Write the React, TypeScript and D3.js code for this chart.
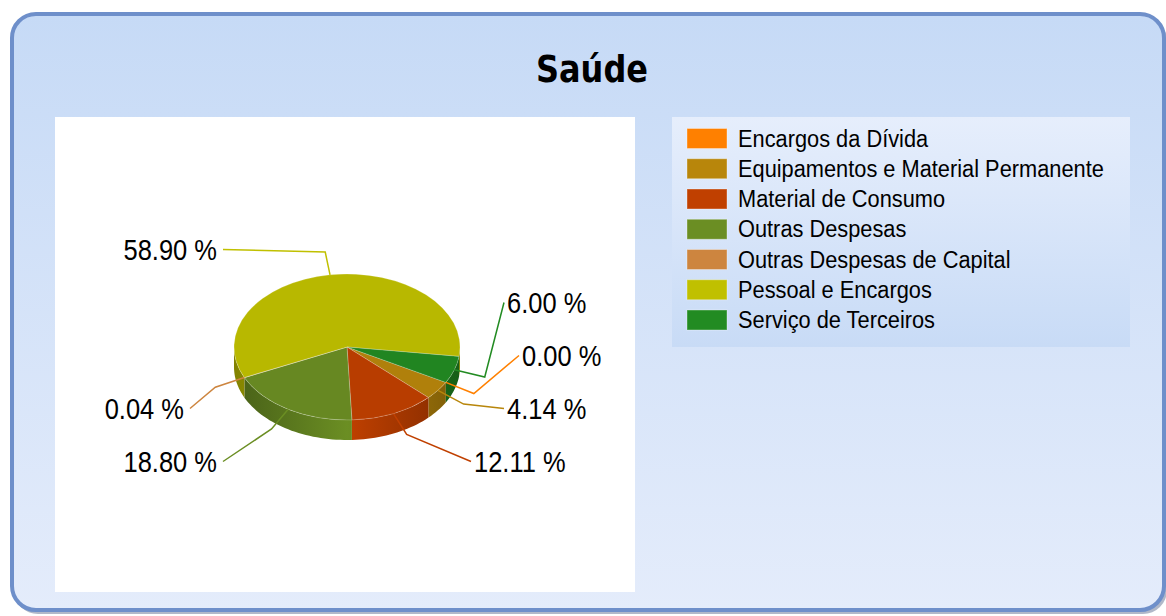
import React from 'react';
import * as d3 from 'd3';

const categories = [
  'Encargos da Dívida',
  'Equipamentos e Material Permanente',
  'Material de Consumo',
  'Outras Despesas',
  'Outras Despesas de Capital',
  'Pessoal e Encargos',
  'Serviço de Terceiros',
];
const values = [0.0, 4.14, 12.11, 18.8, 0.04, 58.9, 6.0];
const colors = ['#FF8000', '#B8860B', '#C04000', '#6B8E23', '#CD853F', '#C0C000', '#228B22'];
const title = 'Saúde';

const W = 1166;
const H = 616;
const cx = 347;
const cy = 347;
const rx = 113;
const ry = 73;
const depth = 20;
const startDeg = 119; // d3 angle (0 = 12 o'clock, clockwise)
const rowMid = 355.5;
const rowStep = 53;
const nRows = 5;

const rad = (d: number) => (d * Math.PI) / 180;
const topPt = (t: number, dy = 0): [number, number] => [cx + rx * Math.sin(t), cy - ry * Math.cos(t) + dy];

export default function App() {
  const pie = d3
    .pie<number>()
    .sort(null)
    .value((d) => d)
    .startAngle(rad(startDeg))
    .endAngle(rad(startDeg + 360));
  const arcs = pie(values);

  const arcGen = d3.arc<any>().innerRadius(0).outerRadius(rx);
  const line = d3.line<[number, number]>();

  // side walls (front half only)
  const windows: [number, number][] = [
    [rad(90), rad(270)],
    [rad(450), rad(630)],
  ];
  const sides: { i: number; d: string }[] = [];
  arcs.forEach((a, i) => {
    windows.forEach(([w0, w1]) => {
      const t0 = Math.max(a.startAngle, w0);
      const t1 = Math.min(a.endAngle, w1);
      if (t1 - t0 > 1e-4) {
        const n = Math.max(4, Math.ceil(((t1 - t0) * 180) / Math.PI / 2));
        const ts = d3.range(n + 1).map((k) => t0 + ((t1 - t0) * k) / n);
        const pts: [number, number][] = [
          ...ts.map((t) => topPt(t)),
          ...ts.slice().reverse().map((t) => topPt(t, depth)),
        ];
        sides.push({ i, d: line(pts) + 'Z' });
      }
    });
  });

  // labels
  type Lab = { i: number; mid: number; side: number; y: number; ideal: number; row: number };
  const labs: Lab[] = arcs.map((a, i) => {
    const mid = (a.startAngle + a.endAngle) / 2;
    const sy = -Math.cos(mid);
    const ideal = Math.max(0, Math.min(nRows - 1, Math.round((sy * rowStep * 2) / rowStep) + 2));
    return { i, mid, side: Math.sin(mid) >= 0 ? 1 : -1, y: sy, ideal, row: ideal };
  });
  [1, -1].forEach((s) => {
    const g = labs.filter((l) => l.side === s).sort((a, b) => a.y - b.y);
    let prev = -1;
    g.forEach((l) => {
      l.row = Math.max(l.ideal, prev + 1);
      prev = l.row;
    });
    let next = nRows;
    for (let k = g.length - 1; k >= 0; k--) {
      g[k].row = Math.min(g[k].row, next - 1);
      next = g[k].row;
    }
  });
  const rowR = (row: number) => {
    const k = Math.abs(row - 2);
    return 172 - 15 * k - 9 * k * (k - 1);
  };
  const fmt = d3.format('.2f');

  const legendX = 687;
  const legendY0 = 138.5;
  const legendStep = 30.25;

  return (
    <svg width={W} height={H} style={{ position: 'absolute', left: 0, top: 0 }}>
      <defs>
        <linearGradient id="bg" x1="0" y1="0" x2="0" y2="1">
          <stop offset="0" stopColor="#c6daf6" />
          <stop offset="1" stopColor="#e4ecfb" />
        </linearGradient>
        <linearGradient id="lg" x1="0" y1="0" x2="0" y2="1">
          <stop offset="0" stopColor="#e6eefc" />
          <stop offset="1" stopColor="#c8dbf6" />
        </linearGradient>
        {colors.map((c, i) => (
          <linearGradient key={i} id={'side' + i} gradientUnits="userSpaceOnUse" x1={cx - rx} y1={0} x2={cx + rx} y2={0}>
            <stop offset="0" stopColor={d3.color(c)!.darker(1.1).formatHex()} />
            <stop offset="0.5" stopColor={d3.color(c)!.formatHex()} />
            <stop offset="1" stopColor={d3.color(c)!.darker(1.1).formatHex()} />
          </linearGradient>
        ))}
      </defs>
      <rect x={0} y={0} width={W} height={H} fill="#ffffff" />
      <rect x={14} y={17} width={1153} height={597} rx={24} fill="#8e9ab2" opacity={0.7} />
      <rect x={12} y={14} width={1152} height={596} rx={24} fill="url(#bg)" stroke="#6e8fca" strokeWidth={4} />

      <text
        transform={`translate(592,82) scale(1,1.15)`}
        textAnchor="middle"
        fontFamily="DejaVu Sans, Verdana, sans-serif"
        fontWeight="bold"
        fontSize={32}
        fill="#000"
      >
        {title}
      </text>

      <rect x={55} y={117} width={580} height={475} fill="#ffffff" />

      {/* pie sides */}
      {sides.map((s, k) => (
        <path key={'s' + k} d={s.d} fill={`url(#side${s.i})`} />
      ))}
      {/* pie tops */}
      <g transform={`translate(${cx},${cy}) scale(1,${ry / rx})`}>
        {arcs.map((a, i) => (
          <path
            key={'t' + i}
            d={arcGen(a) || ''}
            fill={d3.color(colors[i])!.darker(0.12).formatHex()}
            stroke="rgba(255,255,255,0.35)"
            strokeWidth={0.6}
            vectorEffect="non-scaling-stroke"
          />
        ))}
      </g>

      {/* leader lines and labels */}
      {labs.map((l) => {
        const anchor = topPt(l.mid);
        const bend: [number, number] = [cx + (rx + 32) * Math.sin(l.mid), cy - (ry + 23) * Math.cos(l.mid)];
        const rowY = rowMid + (l.row - 2) * rowStep;
        const end: [number, number] = [cx + l.side * rowR(l.row), rowY];
        const tx = l.side > 0 ? end[0] + 3 : end[0] - 6;
        return (
          <g key={'l' + l.i}>
            <path d={line([anchor, bend, end]) || ''} fill="none" stroke={colors[l.i]} strokeWidth={1.5} />
            <text
              transform={`translate(${tx},${rowY}) scale(1,1.15)`}
              textAnchor={l.side > 0 ? 'start' : 'end'}
              dominantBaseline="central"
              fontFamily="Liberation Sans, Arial, sans-serif"
              fontSize={25.5}
              fill="#000"
            >
              {fmt(values[l.i]) + ' %'}
            </text>
          </g>
        );
      })}

      {/* legend */}
      <rect x={672} y={117} width={458} height={230} fill="url(#lg)" />
      {categories.map((c, i) => {
        const yc = legendY0 + i * legendStep;
        return (
          <g key={'lg' + i}>
            <rect x={legendX} y={yc - 10} width={40} height={20} fill={colors[i]} stroke="rgba(255,255,255,0.35)" strokeWidth={1} />
            <text
              transform={`translate(738,${yc + 8}) scale(1,1.1)`}
              fontFamily="Liberation Sans, Arial, sans-serif"
              fontSize={21.8}
              fill="#000"
            >
              {c}
            </text>
          </g>
        );
      })}
    </svg>
  );
}
